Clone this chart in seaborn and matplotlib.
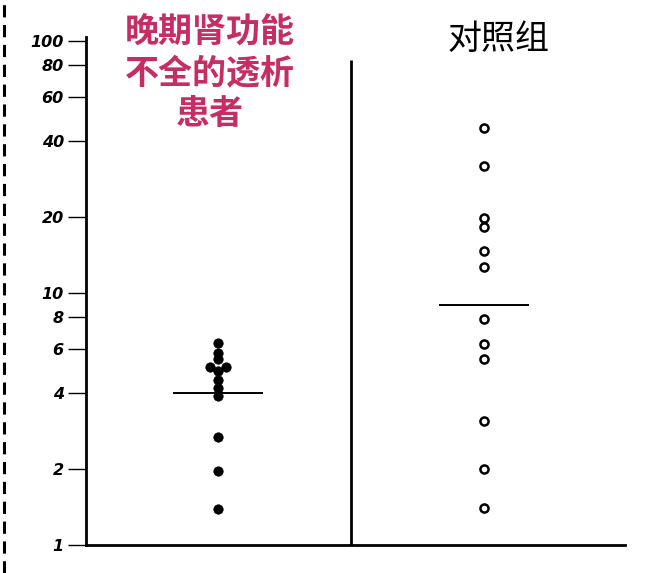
import numpy as np
import pandas as pd
import matplotlib
matplotlib.use("Agg")
import matplotlib.pyplot as plt
import matplotlib.ticker as mticker
from matplotlib.lines import Line2D
import seaborn as sns

# Values per group (log scale), and group means
patient_label = "晚期肾功能\n不全的透析\n患者"
control_label = "对照组"
patient_values = [6.35, 5.76, 5.47, 5.1, 5.1, 4.9, 4.52, 4.21, 3.9, 2.68, 1.97, 1.39]
control_values = [45.3, 32.0, 19.9, 18.2, 14.7, 12.7, 7.88, 6.26, 5.47, 3.1, 2.01, 1.4]
patient_mean = 4.0
control_mean = 9.0
ytick_values = [1, 2, 4, 6, 8, 10, 20, 40, 60, 80, 100]

sns.set_style("white")
plt.rcParams["font.family"] = ["Noto Sans CJK SC", "DejaVu Sans"]


def tie_dodge(values, step=0.03):
    """Spread tied values side by side around the group centre."""
    vals = np.asarray(values)
    out = np.zeros(len(vals))
    for v in np.unique(vals):
        idx = np.where(vals == v)[0]
        if len(idx) > 1:
            out[idx] = (np.arange(len(idx)) - (len(idx) - 1) / 2) * 2 * step
    return out


df_p = pd.DataFrame({"value": patient_values})
df_p["x"] = 0 + tie_dodge(patient_values)
df_c = pd.DataFrame({"value": control_values})
df_c["x"] = 1 + tie_dodge(control_values)

fig = plt.figure(figsize=(6.64, 5.73), dpi=100)
ax = fig.add_axes([86 / 664, 28 / 573, 539 / 664, (545 - 36.7) / 573])

sns.scatterplot(data=df_p, x="x", y="value", ax=ax, color="black", s=46,
                marker="o", edgecolor="black", linewidth=0.5, legend=False, zorder=3)
sns.scatterplot(data=df_c, x="x", y="value", ax=ax, facecolor="white", s=34,
                marker="o", edgecolor="black", linewidth=1.8, legend=False, zorder=3)

# group means
half = 0.17
ax.hlines([patient_mean, control_mean], [0 - half, 1 - half], [0 + half, 1 + half],
          colors="black", linewidth=1.4, zorder=2)

# divider between groups
ax.vlines(0.5, 1, 84, colors="black", linewidth=2.0, zorder=2)

ax.set_yscale("log")
ax.set_ylim(1, 104)
ax.set_xlim(-0.497, 1.531)
ax.set_yticks(ytick_values)
ax.yaxis.set_major_formatter(mticker.FixedFormatter([str(v) for v in ytick_values]))
ax.yaxis.set_minor_locator(mticker.NullLocator())
ax.set_xticks([])
ax.set_xlabel("")
ax.set_ylabel("")
for lab in ax.get_yticklabels():
    lab.set_fontfamily("DejaVu Sans")
    lab.set_fontstyle("italic")
    lab.set_fontweight("bold")
    lab.set_fontsize(11.5)
ax.tick_params(axis="y", direction="out", length=13, width=1.0, pad=3, colors="black", left=True)

for side in ["top", "right"]:
    ax.spines[side].set_visible(False)
for side in ["left", "bottom"]:
    ax.spines[side].set_color("black")
    ax.spines[side].set_linewidth(2.0)

# group headings
fig.text(210 / 664, 1 - 73 / 573, patient_label, ha="center", va="center",
         multialignment="center", fontsize=24.5, fontweight="bold", color="#C62D64",
         linespacing=1.2)
fig.text(498 / 664, 1 - 39 / 573, control_label, ha="center", va="center",
         fontsize=24.5, color="black")

# dashed rule at the left edge
fig.add_artist(Line2D([4 / 664, 4 / 664], [0, 1], transform=fig.transFigure,
                      color="black", linewidth=2.2, linestyle=(0, (4, 2.5))))

fig.savefig("out.png", dpi=100)
